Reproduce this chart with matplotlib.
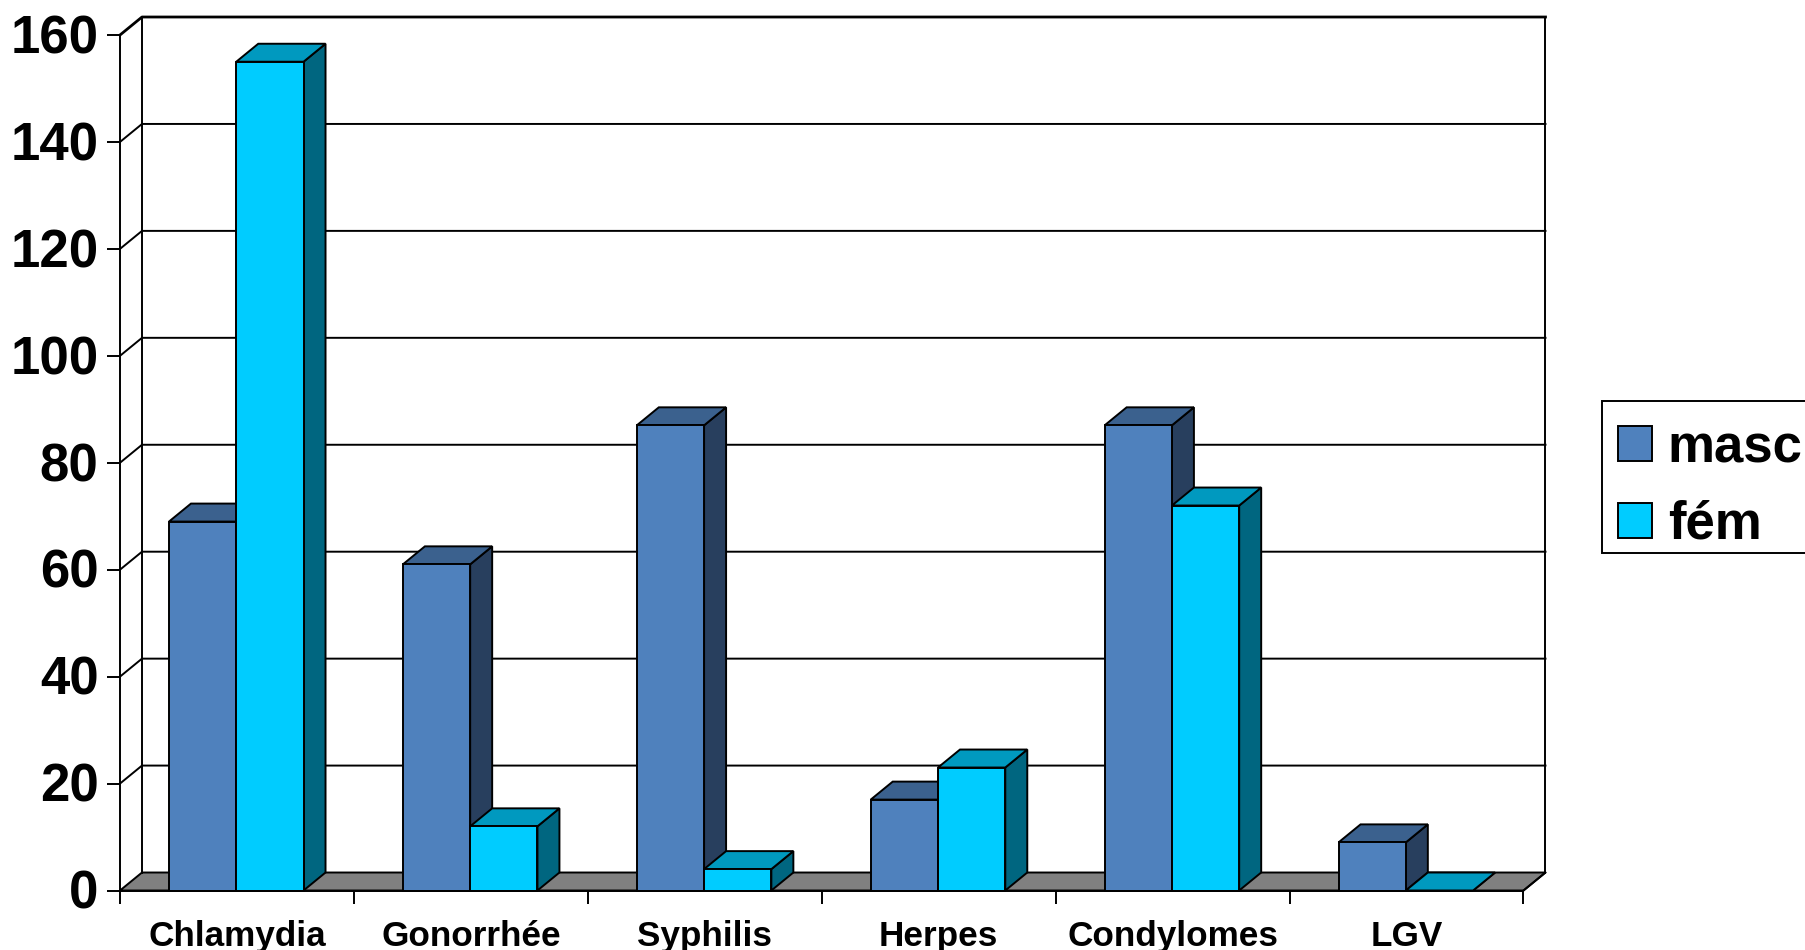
import matplotlib
matplotlib.use('Agg')
import matplotlib.pyplot as plt
from matplotlib.lines import Line2D
from matplotlib.patches import Patch, Polygon, Rectangle
from matplotlib.transforms import ScaledTranslation

plt.rcParams['font.family'] = ['Liberation Sans', 'DejaVu Sans']
plt.rcParams['font.weight'] = 'bold'

categories = ['Chlamydia', 'Gonorrhée', 'Syphilis', 'Herpes', 'Condylomes', 'LGV']
masc = [69, 61, 87, 17, 87, 9]
fem = [155, 12, 4, 23, 72, 0]
y_ticks = [0, 20, 40, 60, 80, 100, 120, 140, 160]

W, H = 1806, 950
left, right, bottom, top = 120, 1523.5, 890.5, 35

# depth of the fake 3d box, in data units
depth_x = 22 / 234
depth_y = 18 / 5.35
bar_w = 67.3 / 234
gap = (1 - 2 * bar_w) / 2 - 0.7 / 234
lw = 1.4

masc_colors = ('#4F81BD', '#3B618E', '#283F5E')
fem_colors = ('#00CCFF', '#0099BF', '#006680')


def draw_bar(ax, x, value, colors, z):
    front, roof, side = colors
    ax.add_patch(Polygon([(x + bar_w, 0), (x + bar_w + depth_x, depth_y),
                          (x + bar_w + depth_x, value + depth_y), (x + bar_w, value)],
                         fc=side, ec='black', lw=lw, zorder=z, clip_on=False))
    ax.add_patch(Polygon([(x, value), (x + depth_x, value + depth_y),
                          (x + bar_w + depth_x, value + depth_y), (x + bar_w, value)],
                         fc=roof, ec='black', lw=lw, zorder=z, clip_on=False))
    ax.add_patch(Rectangle((x, 0), bar_w, value, fc=front, ec='black', lw=lw,
                           zorder=z, clip_on=False))


fig = plt.figure(figsize=(W / 100, H / 100), dpi=100)
ax = fig.add_axes([left / W, 1 - bottom / H, (right - left) / W, (bottom - top) / H])
n = len(categories)
ax.set_xlim(0, n)
ax.set_ylim(0, 160)

for s in ['top', 'right']:
    ax.spines[s].set_visible(False)
for s in ['left', 'bottom']:
    ax.spines[s].set_linewidth(lw)
    ax.spines[s].set_zorder(20)

# floor
ax.add_patch(Polygon([(0, 0), (depth_x, depth_y), (n + depth_x, depth_y), (n, 0)],
                     fc='#808080', ec='black', lw=lw, zorder=1, clip_on=False))

# back wall and grid lines
for v in y_ticks[1:]:
    ax.add_line(Line2D([0, depth_x, n + depth_x], [v, v + depth_y, v + depth_y],
                       color='black', lw=lw if v < 160 else 2, zorder=1, clip_on=False))
ax.add_line(Line2D([depth_x, depth_x], [depth_y, 160 + depth_y], color='black', lw=lw,
                   zorder=1, clip_on=False))
ax.add_line(Line2D([n + depth_x, n + depth_x], [depth_y, 160 + depth_y], color='black',
                   lw=lw, zorder=1, clip_on=False))
ax.add_line(Line2D([n, n + depth_x], [0, depth_y], color='black', lw=lw, zorder=1,
                   clip_on=False))

for i in range(n):
    draw_bar(ax, i + gap, masc[i], masc_colors, 3 + 2 * i)
    draw_bar(ax, i + gap + bar_w, fem[i], fem_colors, 4 + 2 * i)

ax.set_yticks(y_ticks)
ax.tick_params(axis='y', length=9.4, width=lw, pad=6, labelsize=38)
for label in ax.get_yticklabels():
    label.set_transform(label.get_transform() + ScaledTranslation(0, 1.2 / 100, fig.dpi_scale_trans))
ax.set_xticks(range(n + 1))
ax.set_xticklabels([])
ax.tick_params(axis='x', which='major', length=9.4, width=lw)
ax.set_xticks([i + 0.5 for i in range(n)], minor=True)
ax.set_xticklabels(categories, minor=True)
ax.tick_params(axis='x', which='minor', length=0, pad=21, labelsize=25.3)

# legend box runs off the right edge of the figure
fig.add_artist(Rectangle((1602 / W, 1 - 553 / H), 230 / W, 152 / H, transform=fig.transFigure,
                         fc='white', ec='black', lw=lw))
handles = [Patch(fc=masc_colors[0], ec='black', lw=lw, label='masc'),
           Patch(fc=fem_colors[0], ec='black', lw=lw, label='fém')]
leg = fig.legend(handles=handles, loc='upper left', bbox_to_anchor=(1604 / W, 1 - 409 / H),
                 fontsize=38, frameon=False,
                 handlelength=0.64, handleheight=0.64, handletextpad=0.3,
                 borderpad=0.27, labelspacing=0.5, borderaxespad=0)

fig.savefig('out.png', dpi=100)
